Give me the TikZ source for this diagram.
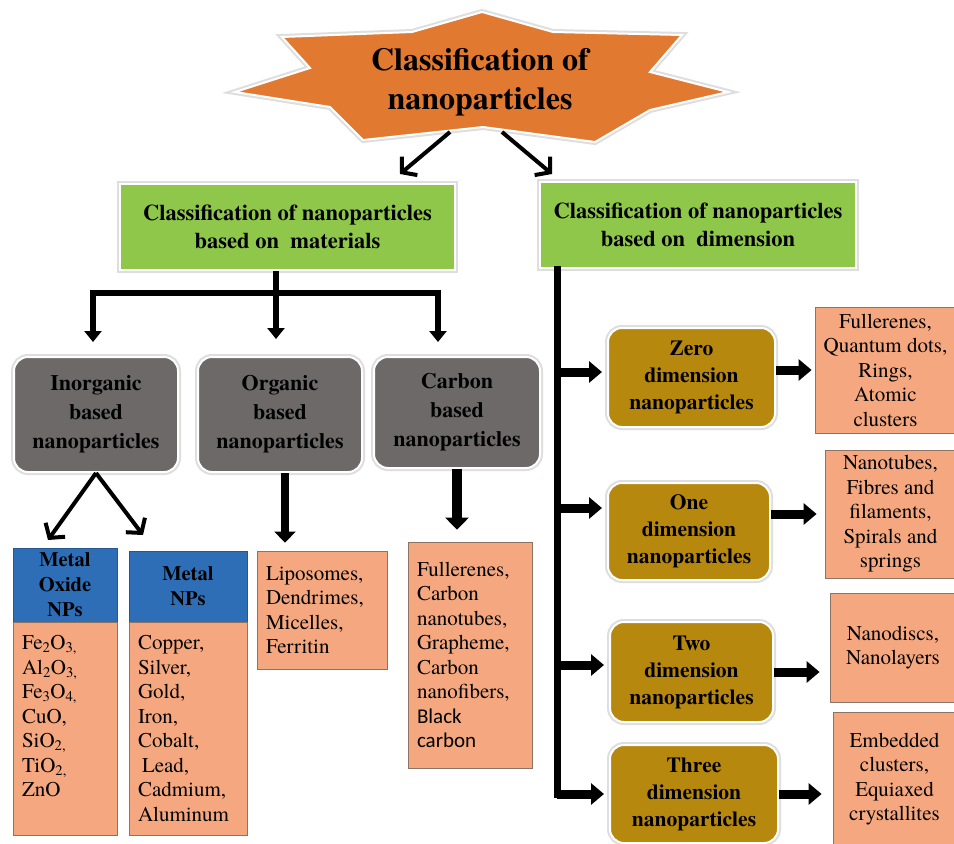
\documentclass[tikz,border=0pt]{standalone}
\usepackage{fontspec}
\setmainfont{texgyretermes}[Extension=.otf,UprightFont=*-regular,BoldFont=*-bold,ItalicFont=*-italic,BoldItalicFont=*-bolditalic]
\newfontfamily\carlitofont{Carlito}
\usetikzlibrary{arrows.meta,calc}
\definecolor{starorange}{RGB}{226,121,48}
\definecolor{boxgreen}{RGB}{143,199,74}
\definecolor{boxgray}{RGB}{110,105,105}
\definecolor{boxblue}{RGB}{46,110,182}
\definecolor{salmonfill}{RGB}{245,168,128}
\definecolor{salmonedge}{RGB}{140,115,100}
\definecolor{boxbrown}{RGB}{183,136,14}
\begin{document}
\begin{tikzpicture}[x=1pt,y=-1pt,
  glow/.style={preaction={draw=black!13,line width=6pt},draw=white,line width=2pt},
  greenbox/.style={glow,fill=boxgreen,font=\fontsize{22.5}{28}\selectfont\bfseries,align=center,inner sep=0pt},
  graybox/.style={glow,fill=boxgray,rounded corners=14pt,font=\fontsize{22}{29}\selectfont\bfseries,align=center,inner sep=0pt},
  brownbox/.style={glow,fill=boxbrown,rounded corners=14pt,font=\fontsize{21.5}{27}\selectfont\bfseries,align=center,inner sep=0pt},
  bluebox/.style={fill=boxblue,draw=boxblue!80!black,line width=0.6pt,font=\fontsize{20.5}{25}\selectfont\bfseries,align=center,inner sep=0pt},
  salbox/.style={fill=salmonfill,draw=salmonedge,line width=0.8pt,font=\fontsize{21}{24.5}\selectfont,inner sep=0pt},
  sallist/.style={salbox,align=left,inner xsep=9pt},
  openarrow/.style={line width=4pt,-{Straight Barb[length=10pt,width=24pt]}},
  darrow/.style={line width=6pt,-{Triangle[length=11pt,width=17pt]}},
  darrowB/.style={line width=8pt,-{Triangle[length=11pt,width=21pt]}},
  darrowC/.style={line width=10pt,-{Triangle[length=12pt,width=23pt]}},
  harrow/.style={line width=9pt,-{Triangle[length=13pt,width=21pt]}},
  trunk/.style={line width=7pt,line cap=rect}
]
\useasboundingbox (0,0) rectangle (954,844);
\fill[white] (0,0) rectangle (954,844);

% star
\draw[glow,fill=starorange] (482,12) -- (553,32) -- (682,35) -- (650,72) -- (728,92)
  -- (650,110) -- (595,142) -- (483,127) -- (363,140) -- (330,107) -- (235,92)
  -- (310,68) -- (282,37) -- (412,32) -- cycle;
\node[font=\fontsize{32}{39}\selectfont\bfseries,align=center,inner sep=0pt] (star) at (480,82) {Classification of\\nanoparticles};

% green boxes
\node[greenbox,minimum width=335pt,minimum height=86pt] (gm) at (287.5,227) {Classification of nanoparticles\\based on\ \ materials};
\node[greenbox,minimum width=316pt,minimum height=86pt] (gd) at (698,225) {Classification of nanoparticles\\based on\ \ dimension};

\coordinate (sl1) at (450,132); \coordinate (sl2) at (400,174);
\coordinate (sr1) at (502,132); \coordinate (sr2) at (552,174);
\draw[openarrow] (sl1) -- (sl2);
\draw[openarrow] (sr1) -- (sr2);

% gray boxes
\node[graybox,minimum width=164pt,minimum height=115pt] (inorg) at (96,414.5) {Inorganic\\based\\nanoparticles};
\node[graybox,minimum width=164pt,minimum height=115pt] (org) at (280,414.5) {Organic\\based\\nanoparticles};
\node[graybox,minimum width=166pt,minimum height=111pt] (carb) at (457,412.5) {Carbon\\based\\nanoparticles};

% left tree
\coordinate (lj) at (276,293); \coordinate (ij) at (93,293); \coordinate (cj) at (438,293);
\draw[darrow,shorten >=17pt] (gm.south -| lj) -- (lj |- org.north);
\draw[darrow,shorten >=14pt] (lj) -- (ij) -- (ij |- inorg.north);
\draw[darrow,shorten >=14pt] (lj) -- (cj) -- (cj |- carb.north);

% blue and salmon boxes
\node[bluebox,minimum width=104pt,minimum height=74pt] (mo) at (65,585) {Metal\\Oxide\\NPs};
\node[bluebox,minimum width=118pt,minimum height=71pt] (mn) at (188,586.5) {Metal\\NPs};
\node[sallist,minimum width=104pt,minimum height=213pt,text width=86pt] (moS) at (65,728.5)
  {Fe\textsubscript{2}O\textsubscript{3,}\\Al\textsubscript{2}O\textsubscript{3,}\\Fe\textsubscript{3}O\textsubscript{4,}\\CuO,\\SiO\textsubscript{2,}\\TiO\textsubscript{2,}\\ZnO\\\mbox{}};
\node[sallist,minimum width=118pt,minimum height=213pt,text width=100pt] (mnS) at (188,728.5)
  {Copper,\\Silver,\\Gold,\\Iron,\\Cobalt,\\\hspace*{4pt}Lead,\\Cadmium,\\Aluminum};
\node[sallist,minimum width=130pt,minimum height=118pt,text width=112pt] (orgS) at (322,610)
  {Liposomes,\\Dendrimes,\\Micelles,\\Ferritin};
\node[sallist,minimum width=124pt,minimum height=226pt,text width=106pt] (carbS) at (470,655)
  {Fullerenes,\\Carbon\\nanotubes,\\Grapheme,\\Carbon\\nanofibers,\\{\carlitofont Black}\\{\carlitofont carbon}};

\coordinate (moT) at (48,540); \coordinate (mnT) at (143,535);
\draw[openarrow] (inorg.south) -- (moT);
\draw[openarrow] (inorg.south) -- (mnT);
\coordinate (ox) at (285,0);
\draw[darrowB,shorten >=8pt] (org.south -| ox) -- (orgS.north -| ox);
\draw[darrowC,shorten >=12pt] (carb.south) -- (carb.south |- carbS.north);

% brown boxes
\node[brownbox,minimum width=167pt,minimum height=99pt] (zero) at (691.5,377.5) {Zero\\dimension\\nanoparticles};
\node[brownbox,minimum width=162pt,minimum height=97pt] (one) at (689,531.5) {One\\dimension\\nanoparticles};
\node[brownbox,minimum width=163pt,minimum height=100pt] (two) at (691.5,672) {Two\\dimension\\nanoparticles};
\node[brownbox,minimum width=168pt,minimum height=98pt] (three) at (694,794) {Three\\dimension\\nanoparticles};

% right salmon boxes
\node[salbox,align=center,minimum width=141pt,minimum height=126pt] (zs) at (885.5,370) {Fullerenes,\\Quantum dots,\\Rings,\\Atomic\\clusters};
\node[salbox,align=center,minimum width=131pt,minimum height=128pt] (os) at (890.5,514) {Nanotubes,\\Fibres and\\filaments,\\Spirals and\\springs};
\node[salbox,align=center,minimum width=126pt,minimum height=109pt] (ts) at (893,647.5) {Nanodiscs,\\Nanolayers};
\node[salbox,align=center,minimum width=123pt,minimum height=134pt] (hs) at (894.5,779) {Embedded\\clusters,\\Equiaxed\\crystallites};

% right tree
\coordinate (rx) at (557,0);
\coordinate (a0) at ([yshift=5.5pt]zero.west);
\coordinate (a1) at ([yshift=23.5pt]one.west);
\coordinate (a2) at ([yshift=7pt]two.west);
\draw[trunk] (gd.south -| rx) -- (rx |- three.west);
\draw[harrow,shorten >=5pt] (rx |- a0) -- (a0);
\draw[harrow,shorten >=5pt] (rx |- a1) -- (a1);
\draw[harrow,shorten >=5pt] (rx |- a2) -- (a2);
\draw[harrow,shorten >=5pt] (rx |- three.west) -- (three.west);

\draw[harrow,shorten >=3pt] (zero.east |- zs.west) -- (zs.west);
\draw[harrow,shorten >=8pt] (one.east |- os.west) -- (os.west);
\draw[harrow,shorten >=10pt] (two.east) -- (two.east -| ts.west);
\draw[harrow,shorten >=11pt] (three.east) -- (three.east -| hs.west);
\end{tikzpicture}
\end{document}
